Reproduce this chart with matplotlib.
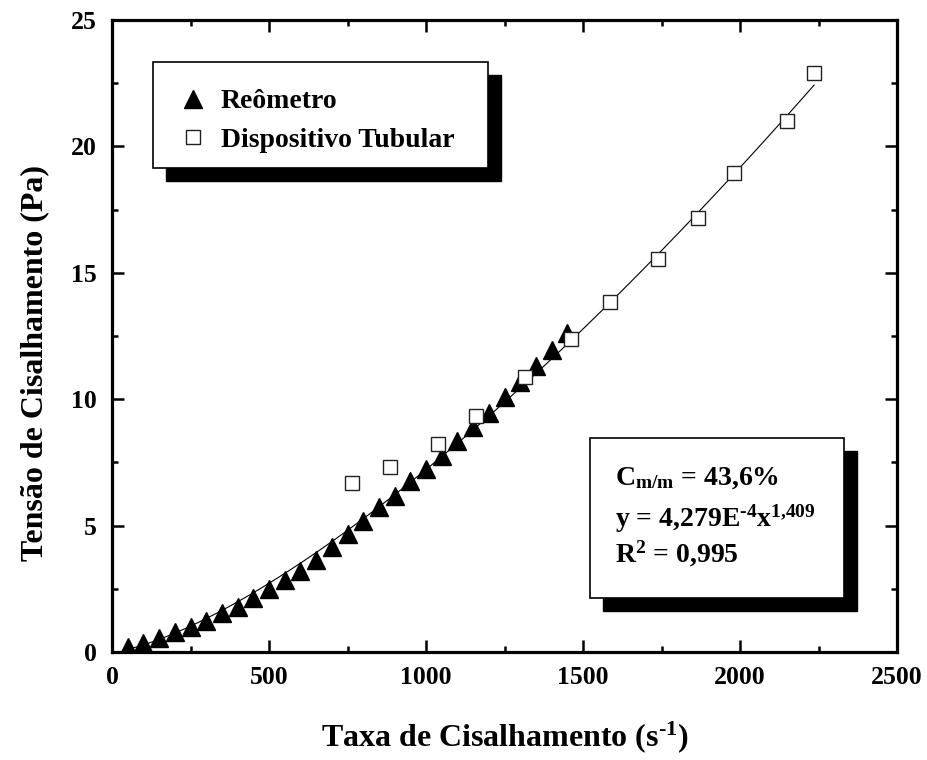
import numpy as np
import matplotlib
matplotlib.use('Agg')
import matplotlib.pyplot as plt
from matplotlib.patches import Rectangle

plt.rcParams['font.family'] = 'Liberation Serif'
plt.rcParams['font.weight'] = 'bold'
plt.rcParams['axes.labelweight'] = 'bold'
plt.rcParams['mathtext.fontset'] = 'custom'
plt.rcParams['mathtext.rm'] = 'Liberation Serif:bold'
plt.rcParams['mathtext.it'] = 'Liberation Serif:bold'
plt.rcParams['mathtext.bf'] = 'Liberation Serif:bold'

# Reometro
reo_x = [50, 100, 150, 200, 250, 300, 350, 400, 450, 500, 550, 600, 650, 700,
         750, 800, 850, 900, 950, 1000, 1050, 1100, 1150, 1200, 1250, 1300,
         1350, 1400, 1450]
reo_y = [0.19, 0.34, 0.56, 0.78, 1.00, 1.24, 1.53, 1.79, 2.14, 2.49, 2.85,
         3.22, 3.64, 4.14, 4.67, 5.19, 5.72, 6.18, 6.75, 7.24, 7.77, 8.36,
         8.89, 9.45, 10.09, 10.68, 11.31, 11.95, 12.6]

# Dispositivo tubular
tub_x = [765, 885, 1037, 1160, 1315, 1462, 1586, 1740, 1865, 1980, 2150, 2236]
tub_y = [6.67, 7.33, 8.23, 9.35, 10.87, 12.38, 13.83, 15.53, 17.18, 18.95,
         20.99, 22.92]

# ajuste de potencia y = a * x^b
fit_a = 4.279e-4
fit_b = 1.409

fig = plt.figure(figsize=(9.28, 7.6), dpi=100)
ax = fig.add_axes([112 / 928, 1 - 652 / 760, 785 / 928, 632 / 760])

xf = np.linspace(min(reo_x), max(tub_x), 300)
ax.plot(xf, fit_a * xf ** fit_b, color='black', lw=0.8, zorder=2)
ax.plot(reo_x, reo_y, linestyle='none', marker='^', ms=12.5, color='black',
        label='Reômetro', zorder=3)
ax.plot(tub_x, tub_y, linestyle='none', marker='s', ms=10, mfc='white',
        mec='#222222', mew=1.0, label='Dispositivo Tubular', zorder=4)

ax.set_xlim(0, 2500)
ax.set_ylim(0, 25)
ax.set_xticks(np.arange(0, 2501, 500))
ax.set_xticks(np.arange(0, 2501, 250), minor=True)
ax.set_yticks(np.arange(0, 26, 5))
ax.set_yticks(np.arange(0, 26, 2.5), minor=True)
ax.tick_params(which='both', direction='in', top=True, right=True,
               labelsize=18.5)
ax.tick_params(which='major', length=8.5, width=1.8)
ax.tick_params(which='minor', length=4.3, width=1.8)
ax.tick_params(axis='x', which='major', pad=10)
ax.tick_params(axis='y', which='major', pad=11)
for s in ax.spines.values():
    s.set_linewidth(2.3)

ax.set_xlabel('Taxa de Cisalhamento (s$^{\u2010 1}$)', fontsize=23)
ax.xaxis.set_label_coords(0.5, -0.106)
ax.set_ylabel('Tensão de Cisalhamento (Pa)', fontsize=23)
ax.yaxis.set_label_coords(-0.080, 0.458)

# caixas com sombra
dx, dy = 13 / 785, 13 / 632


def shadow_box(x0, y0, x1, y1):
    ax.add_patch(Rectangle((x0 + dx, y0 - dy), x1 - x0, y1 - y0,
                           transform=ax.transAxes, facecolor='black',
                           edgecolor='black', zorder=5))
    ax.add_patch(Rectangle((x0, y0), x1 - x0, y1 - y0,
                           transform=ax.transAxes, facecolor='white',
                           edgecolor='black', lw=1.2, zorder=6))


shadow_box(0.0522, 0.7658, 0.479, 0.9335)
leg = ax.legend(loc='upper left', bbox_to_anchor=(0.068, 0.913), frameon=False,
                fontsize=20, handlelength=1.0, handletextpad=0.5,
                labelspacing=0.48, borderpad=0, numpoints=1)
leg.set_zorder(7)

shadow_box(0.609, 0.0854, 0.932, 0.3386)
ax.text(0.641, (652 - 485) / 632, r'C$_{\mathrm{m/m}}$ = 43,6%',
        transform=ax.transAxes, fontsize=20, va='baseline', zorder=7)
ax.text(0.641, (652 - 527) / 632,
        'y = 4,279E$^{\u20104}$x$^{1{,}409}$',
        transform=ax.transAxes, fontsize=20, va='baseline', zorder=7)
ax.text(0.641, (652 - 562) / 632, r'R$^{2}$ = 0,995',
        transform=ax.transAxes, fontsize=20, va='baseline', zorder=7)

fig.savefig('out.png', dpi=100)
